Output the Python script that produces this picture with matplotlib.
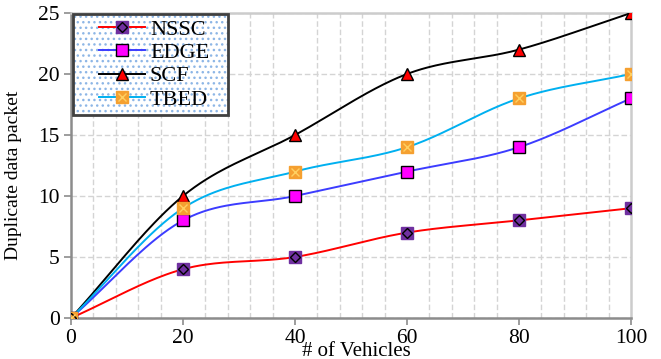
import numpy as np
import matplotlib
matplotlib.use("Agg")
import matplotlib.pyplot as plt
from matplotlib.patches import Rectangle
from matplotlib.lines import Line2D
from matplotlib.legend_handler import HandlerLine2D, HandlerTuple

# ---- data ----
vehicles = [0, 20, 40, 60, 80, 100]
nssc = [0, 4, 5, 7, 8, 9]
edge = [0, 8, 10, 12, 14, 18]
scf = [0, 10, 15, 20, 22, 25]
tbed = [0, 9, 12, 14, 18, 20]
series_names = ["NSSC", "EDGE", "SCF", "TBED"]
x_ticks = [0, 20, 40, 60, 80, 100]
y_ticks = [0, 5, 10, 15, 20, 25]

plt.rcParams['font.family'] = ['Liberation Serif', 'DejaVu Serif']


def smooth(xs, ys, n=40):
    """Bezier smoothing of a polyline (for drawing only)."""
    xs = np.asarray(xs, float)
    ys = np.asarray(ys, float)
    P = np.column_stack([xs, ys])
    P = np.vstack([P[0] - (P[1] - P[0]), P, P[-1] + (P[-1] - P[-2])])
    out = []
    for i in range(1, len(P) - 2):
        p0, p1, p2, p3 = P[i - 1], P[i], P[i + 1], P[i + 2]
        c1 = p1 + (p2 - p0) / 6.0
        c2 = p2 - (p3 - p1) / 6.0
        t = np.linspace(0, 1, n)[:, None]
        b = ((1 - t) ** 3) * p1 + 3 * ((1 - t) ** 2) * t * c1 + 3 * (1 - t) * t ** 2 * c2 + t ** 3 * p2
        out.append(b if i == 1 else b[1:])
    out = np.vstack(out)
    return out[:, 0], out[:, 1]


class ShiftedLine(HandlerLine2D):
    """Legend line handler that leaves empty space on the left of the handle."""
    frac = 0.30

    def create_artists(self, legend, orig_handle, xdescent, ydescent, width, height, fontsize, trans):
        shift = width * self.frac
        return super().create_artists(legend, orig_handle, xdescent - shift, ydescent,
                                      width - shift, height, fontsize, trans)


fig = plt.figure(figsize=(6.61, 3.59), dpi=100)
ax = fig.add_axes([71 / 661, 1 - 318 / 359, 560 / 661, 305 / 359])

ax.set_xlim(0, 100)
ax.set_ylim(0, 25)
ax.set_xticks(x_ticks)
ax.set_yticks(y_ticks)
ax.set_xticks(np.arange(0, 101, 4), minor=True)
ax.tick_params(which='minor', length=0)
ax.tick_params(which='major', labelsize=15.5, color='#8c8c8c', length=5, width=1.2, pad=3)

ax.grid(axis='x', which='minor', color='#d4d4d4', linestyle=(0, (4, 2)), linewidth=1)
ax.grid(axis='y', which='major', color='#d4d4d4', linestyle=(0, (4, 2)), linewidth=1)
ax.grid(axis='x', which='major', visible=False)
ax.set_axisbelow(True)

for s in ['left', 'bottom']:
    ax.spines[s].set_color('#8c8c8c')
    ax.spines[s].set_linewidth(1.8)
for s in ['top', 'right']:
    ax.spines[s].set_color('#cccccc')
    ax.spines[s].set_linewidth(1.8)

lw = 1.4
ms = 8.8

# NSSC
sx, sy = smooth(vehicles, nssc)
ax.plot(sx, sy, color='#ff0000', lw=lw, zorder=3)
ax.plot(vehicles, nssc, ls='none', marker='s', ms=ms, mfc='#7030a0', mec='#7030a0', zorder=4)
ax.plot(vehicles, nssc, ls='none', marker='D', ms=ms * 0.62, mfc='none', mec='black', mew=1.0, zorder=5)

# EDGE
sx, sy = smooth(vehicles, edge)
ax.plot(sx, sy, color='#3c3cff', lw=lw, zorder=3)
ax.plot(vehicles, edge, ls='none', marker='s', ms=ms * 0.95, mfc='#ff00ff', mec='black', mew=1.0, zorder=4)

# SCF
sx, sy = smooth(vehicles, scf)
ax.plot(sx, sy, color='black', lw=lw, zorder=3)
ax.plot(vehicles, scf, ls='none', marker='^', ms=ms * 0.95, mfc='#ff0000', mec='black', mew=1.0, zorder=4)

# TBED
sx, sy = smooth(vehicles, tbed)
ax.plot(sx, sy, color='#00b0f0', lw=lw, zorder=3)
ax.plot(vehicles, tbed, ls='none', marker='s', ms=ms, mfc='#f5a030', mec='#f5a030', zorder=4)
ax.plot(vehicles, tbed, ls='none', marker='x', ms=ms * 0.7, mec='#ffd060', mew=1.0, zorder=5)

ax.set_ylabel("Duplicate data packet", fontsize=14)
ax.yaxis.set_label_coords((22 - 71) / 560, (318 - 175) / 305)
fig.text(356 / 661, 1 - 342 / 359, "# of Vehicles", fontsize=15, ha='center', va='top')

# legend handles
h_nssc = (Line2D([], [], color='#ff0000', lw=lw, marker='s', ms=ms, mfc='#7030a0', mec='#7030a0'),
          Line2D([], [], ls='none', marker='D', ms=ms * 0.62, mfc='none', mec='black', mew=1.0))
h_edge = Line2D([], [], color='#3c3cff', lw=lw, marker='s', ms=ms * 0.95, mfc='#ff00ff', mec='black', mew=1.0)
h_scf = Line2D([], [], color='black', lw=lw, marker='^', ms=ms * 0.95, mfc='#ff0000', mec='black', mew=1.0)
h_tbed = (Line2D([], [], color='#00b0f0', lw=lw, marker='s', ms=ms, mfc='#f5a030', mec='#f5a030'),
          Line2D([], [], ls='none', marker='x', ms=ms * 0.7, mec='#ffd060', mew=1.0))

hl = ShiftedLine()
leg = ax.legend([h_nssc, h_edge, h_scf, h_tbed], series_names,
                loc='upper left', bbox_to_anchor=(0.004, 0.997), borderaxespad=0,
                fontsize=16, frameon=True, fancybox=False, handlelength=3.0,
                handletextpad=0.2, labelspacing=0.12, borderpad=0.25,
                handler_map={Line2D: hl, tuple: HandlerTuple(ndivide=1, pad=0)})
leg.get_frame().set_visible(False)
leg.set_zorder(10)

fig.canvas.draw()
bb = leg.get_window_extent().transformed(fig.transFigure.inverted())
x0 = bb.x0
x1 = 228 / 661
bg = Rectangle((x0, bb.y0), x1 - x0, bb.height, transform=fig.transFigure,
               facecolor='white', edgecolor='#8db6e6', linewidth=0, hatch='...', zorder=9)
bg.set_clip_on(False)
ax.add_artist(bg)
border = Rectangle((x0, bb.y0), x1 - x0, bb.height, transform=fig.transFigure,
                   facecolor='none', edgecolor='#404040', linewidth=2.0, zorder=11)
border.set_clip_on(False)
ax.add_artist(border)

fig.savefig("out.png", dpi=100)
